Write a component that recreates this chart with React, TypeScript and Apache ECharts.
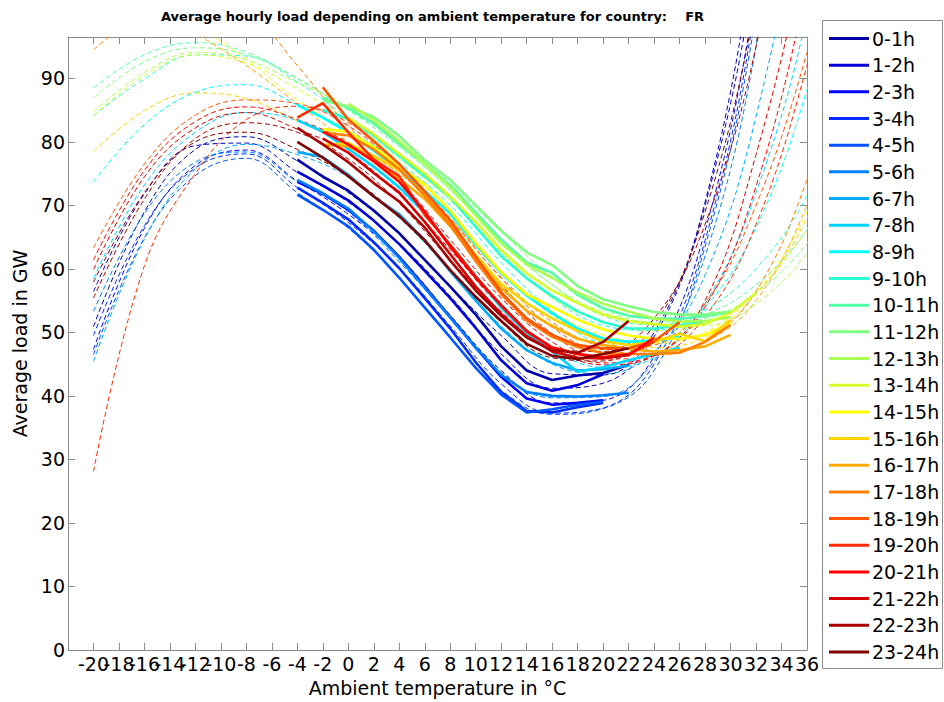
import React, { useEffect, useRef } from "react";
import * as echarts from "echarts";

const FONT = '"DejaVu Sans", "Liberation Sans", Arial, sans-serif';

const hourLabels = [
  "0-1h", "1-2h", "2-3h", "3-4h", "4-5h", "5-6h", "6-7h", "7-8h", "8-9h", "9-10h", "10-11h", "11-12h",
  "12-13h", "13-14h", "14-15h", "15-16h", "16-17h", "17-18h", "18-19h", "19-20h", "20-21h", "21-22h", "22-23h", "23-24h",
];

// MATLAB jet(24)
const hourColors = [
  "#0000AA", "#0000D4", "#0000FF", "#002BFF", "#0055FF", "#0080FF", "#00AAFF", "#00D4FF",
  "#00FFFF", "#2BFFD4", "#55FFAA", "#80FF80", "#AAFF55", "#D4FF2B", "#FFFF00", "#FFD400",
  "#FFAA00", "#FF8000", "#FF5500", "#FF2B00", "#FF0000", "#D40000", "#AA0000", "#800000",
];

// first temperature (°C) of each measured curve; points every 2 °C
const solidStart = [-4, -4, -4, -4, -4, -4, -4, -4, -4, -2, -2, -2, 0, 0, -2, -2, -2, -2, -2, -4, -2, -2, -4, -4];
const tempStep = 2;

// measured average load (GW)
const load00 = [77.2, 74.5, 72.3, 69.2, 65.6, 61.4, 57.2, 52.8, 47.8, 44.0, 42.5, 43.2, 43.6, 44.9];
const load01 = [75.3, 73.1, 70.8, 67.6, 63.9, 59.7, 55.4, 50.7, 45.6, 42.0, 40.8, 41.7, 43.4];
const load02 = [73.7, 71.8, 69.3, 66.0, 61.9, 57.2, 52.4, 47.6, 43.0, 39.6, 38.6, 38.9, 39.3];
const load03 = [72.8, 70.4, 67.8, 64.2, 60.1, 55.4, 50.6, 45.3, 40.6, 37.6, 37.4, 38.2, 38.9];
const load04 = [71.7, 69.3, 66.7, 63.0, 58.6, 53.9, 49.2, 44.4, 40.2, 37.4, 37.9, 38.6, 39.1];
const load05 = [74.0, 71.9, 69.5, 65.9, 61.7, 57.0, 52.3, 47.6, 43.3, 40.6, 40.0, 39.9, 40.1, 40.5];
const load06 = [78.4, 77.6, 74.8, 71.4, 68.6, 64.5, 59.6, 55.0, 50.6, 47.2, 45.2, 44.0, 44.2, 44.8];
const load07 = [83.4, 81.6, 78.9, 76.1, 72.9, 68.8, 63.8, 58.8, 53.9, 49.9, 47.0, 43.8, 44.5, 45.6, 46.6, 47.6];
const load08 = [85.8, 83.8, 81.5, 78.6, 75.6, 72.3, 68.7, 63.8, 59.3, 55.8, 53.0, 50.6, 49.0, 48.5, 48.7, 49.3];
const load09 = [85.0, 83.6, 81.0, 77.8, 74.6, 71.3, 66.6, 62.0, 58.5, 55.7, 53.3, 51.6, 50.6, 50.6, 51.1, 51.8];
const load10 = [87.0, 85.3, 82.9, 79.7, 76.5, 73.2, 68.9, 64.6, 61.0, 59.4, 55.9, 53.8, 52.6, 52.2, 52.1, 52.6, 53.2];
const load11 = [86.6, 85.5, 83.9, 80.9, 77.1, 74.0, 70.0, 66.0, 62.6, 60.6, 57.3, 55.2, 54.1, 53.2, 52.8, 52.8, 53.3];
const load12 = [86.0, 83.4, 80.1, 76.5, 72.9, 68.4, 64.0, 60.7, 58.6, 56.3, 54.5, 53.3, 52.2, 51.7, 51.8, 52.4];
const load13 = [83.8, 81.2, 78.1, 75.0, 71.4, 67.4, 63.0, 59.3, 56.6, 54.6, 52.8, 51.8, 51.3, 50.9, 51.3, 53.1, 56.2];
const load14 = [82.0, 81.6, 79.2, 76.1, 73.3, 69.2, 64.1, 59.5, 56.0, 54.0, 52.0, 50.5, 49.5, 49.0, 49.0, 49.6, 51.5];
const load15 = [79.5, 79.8, 77.8, 75.6, 71.6, 67.3, 62.2, 57.6, 54.6, 52.2, 50.2, 48.6, 48.0, 48.5, 49.8, 48.6, 52.0];
const load16 = [79.5, 79.3, 77.3, 74.2, 71.0, 66.7, 61.5, 57.0, 53.4, 51.0, 49.0, 48.0, 47.4, 47.0, 47.2, 47.8, 49.6];
const load17 = [81.5, 81.0, 78.8, 75.7, 71.5, 66.9, 61.2, 56.0, 51.9, 49.3, 47.7, 46.7, 46.6, 46.6, 46.8, 48.5, 51.2];
const load18 = [88.6, 83.5, 80.1, 76.5, 72.2, 67.6, 61.9, 56.3, 52.2, 49.6, 48.0, 47.5, 47.5, 48.6, 51.6];
const load19 = [83.8, 86.1, 81.5, 77.2, 74.6, 68.5, 63.8, 58.8, 54.2, 50.2, 47.6, 46.6, 46.1, 46.6, 48.5];
const load20 = [81.6, 79.6, 76.9, 73.7, 69.0, 63.5, 58.6, 54.3, 50.2, 47.6, 46.6, 46.0, 46.4, 49.2];
const load21 = [80.5, 78.3, 75.1, 72.0, 67.4, 62.3, 57.2, 52.9, 49.4, 47.0, 46.0, 45.9, 46.5];
const load22 = [82.2, 79.6, 76.8, 73.5, 70.6, 66.5, 61.3, 56.6, 52.6, 49.2, 47.2, 46.8, 48.5, 51.8];
const load23 = [80.0, 77.5, 74.6, 71.4, 68.3, 64.5, 59.8, 55.6, 51.8, 48.2, 46.3, 45.8, 46.6, 47.5];

const solidLoads = [
  load00, load01, load02, load03, load04, load05, load06, load07, load08, load09, load10, load11,
  load12, load13, load14, load15, load16, load17, load18, load19, load20, load21, load22, load23,
];

// fitted curves (dashed), sampled at these temperatures
const fitTemps = [-20, -16, -12, -8, -4, 0, 4, 8, 12, 16, 20, 24, 28, 32, 36, 40];
const fit00 = [50.9, 69.0, 78.8, 80.8, 77.0, 72.0, 65.5, 57.3, 49.5, 43.5, 43.3, 50.0, 70.5, 112, 175, 260];
const fit01 = [56.4, 71.8, 79.4, 79.8, 75.2, 70.5, 64.0, 55.7, 46.6, 41.2, 42.0, 49.3, 70.0, 108, 170, 250];
const fit02 = [47.3, 66.4, 76.3, 78.7, 73.8, 68.6, 61.9, 52.7, 44.0, 38.9, 39.3, 46.2, 66.0, 104, 165, 240];
const fit03 = [49.5, 66.8, 75.9, 78.1, 72.8, 67.3, 60.1, 51.0, 41.9, 37.3, 38.1, 45.0, 64.5, 102, 165, 240];
const fit04 = [46.5, 64.9, 74.7, 77.4, 72.0, 66.4, 58.6, 49.2, 40.9, 37.1, 38.0, 44.0, 63.5, 100, 160, 235];
const fit05 = [53.3, 68.7, 76.8, 78.4, 73.7, 69.0, 61.1, 52.3, 43.7, 39.7, 39.9, 45.5, 62.0, 95, 150, 220];
const fit06 = [45.4, 64.7, 75.7, 79.6, 78.0, 74.4, 68.0, 59.8, 51.0, 45.0, 43.5, 47.0, 59.0, 84, 125, 190];
const fit07 = [58.5, 73.2, 81.5, 84.6, 83.3, 78.7, 72.5, 64.0, 54.6, 47.5, 44.5, 46.0, 54.5, 72, 100, 145];
const fit08 = [73.7, 82.7, 87.8, 89.0, 85.8, 81.8, 76.7, 70.0, 61.0, 53.4, 48.5, 48.5, 54.0, 66.5, 88.2, 120];
const fit09 = [84.1, 89.9, 93.7, 93.5, 89.4, 83.6, 77.5, 70.8, 62.5, 55.4, 51.1, 50.3, 53.5, 60.0, 71.5, 90];
const fit10 = [88.5, 93.7, 95.6, 94.1, 90.0, 85.0, 79.2, 72.4, 64.6, 57.5, 52.6, 51.2, 52.8, 57.5, 66.2, 80];
const fit11 = [86.9, 92.6, 94.8, 93.7, 89.9, 85.0, 80.0, 73.4, 65.8, 58.7, 53.7, 51.6, 52.2, 56.2, 64.0, 76];
const fit12 = [84.7, 90.9, 94.1, 92.9, 89.3, 85.5, 79.4, 72.4, 64.2, 57.5, 53.2, 51.3, 51.1, 54.5, 62.5, 75];
const fit13 = [84.1, 90.4, 93.7, 92.4, 88.3, 83.3, 77.3, 70.8, 62.7, 55.4, 51.7, 50.3, 51.3, 56.3, 66.2, 79];
const fit14 = [112, 104, 98.5, 93.0, 86.6, 81.6, 76.2, 69.0, 59.6, 53.3, 49.6, 48.3, 50.0, 56.5, 69.0, 90];
const fit15 = [78.4, 84.9, 87.7, 86.8, 83.3, 79.6, 75.2, 68.0, 59.6, 53.0, 49.0, 47.6, 49.3, 56.0, 68.0, 88];
const fit16 = [106, 101, 97.0, 92.0, 86.0, 80.0, 75.0, 67.8, 59.3, 52.8, 48.6, 47.0, 48.5, 55.0, 70.0, 92];
const fit17 = [94.5, 100.5, 104, 101, 92.0, 82.5, 75.5, 67.6, 58.7, 51.6, 47.6, 46.5, 48.5, 56.5, 74.0, 100];
const fit18 = [63.3, 76.5, 84.2, 86.6, 86.0, 83.0, 76.5, 68.0, 58.5, 50.8, 47.3, 48.0, 54.5, 70.0, 94.0, 125];
const fit19 = [28.1, 60.5, 75.0, 83.5, 85.6, 82.5, 75.8, 66.9, 57.5, 49.8, 45.8, 46.3, 52.5, 67.0, 92.0, 125];
const fit20 = [61.4, 75.5, 83.2, 85.5, 83.5, 79.8, 73.8, 64.6, 55.4, 48.5, 45.2, 46.4, 54.0, 73.0, 105, 150];
const fit21 = [59.9, 74.5, 82.2, 84.6, 82.0, 78.3, 71.7, 63.0, 54.0, 47.7, 44.9, 46.3, 55.0, 78.0, 112, 160];
const fit22 = [55.4, 71.0, 80.5, 83.0, 81.5, 77.3, 70.3, 61.4, 53.3, 47.5, 47.0, 52.2, 67.0, 95, 140, 200];
const fit23 = [57.9, 72.0, 80.0, 81.5, 78.8, 74.6, 68.2, 59.8, 51.6, 46.0, 45.5, 51.2, 69.0, 102, 150, 210];

const fitLoads = [
  fit00, fit01, fit02, fit03, fit04, fit05, fit06, fit07, fit08, fit09, fit10, fit11,
  fit12, fit13, fit14, fit15, fit16, fit17, fit18, fit19, fit20, fit21, fit22, fit23,
];

const AXIS_GRAY = "#8c8c8c";

export default function App() {
  const ref = useRef<HTMLDivElement>(null);

  useEffect(() => {
    if (!ref.current) return;
    const chart = echarts.init(ref.current, undefined, { renderer: "svg" });

    const dashed = hourLabels.map((h, k) => ({
      name: h + " fit",
      type: "line",
      xAxisIndex: 0,
      yAxisIndex: 0,
      data: fitTemps.map((t, i) => [t, fitLoads[k][i]]),
      smooth: 0.4,
      symbol: "none",
      silent: true,
      clip: true,
      z: 2,
      lineStyle: { color: hourColors[k], width: 1, type: [5, 3] },
      itemStyle: { color: hourColors[k] },
    }));

    const solid = hourLabels.map((h, k) => ({
      name: h,
      type: "line",
      xAxisIndex: 0,
      yAxisIndex: 0,
      data: solidLoads[k].map((v, i) => [solidStart[k] + tempStep * i, v]),
      symbol: "none",
      clip: true,
      z: 3,
      lineStyle: { color: hourColors[k], width: 2.6 },
      itemStyle: { color: hourColors[k] },
    }));

    const tickCommon = {
      axisLine: { show: true, onZero: false, lineStyle: { color: AXIS_GRAY, width: 1 } },
      axisTick: { show: true, inside: true, length: 7, lineStyle: { color: AXIS_GRAY } },
      splitLine: { show: false },
    };

    chart.setOption({
      animation: false,
      backgroundColor: "#ffffff",
      textStyle: { fontFamily: FONT },
      title: {
        text: "Average hourly load depending on ambient temperature for country:    FR",
        left: 156,
        top: 5,
        textStyle: { fontFamily: FONT, fontSize: 13, fontWeight: "bold", color: "#000" },
      },
      grid: { left: 68, top: 37, width: 739, height: 614, containLabel: false },
      xAxis: [
        {
          type: "value",
          min: -22,
          max: 36,
          interval: 2,
          position: "bottom",
          name: "Ambient temperature in °C",
          nameLocation: "middle",
          nameGap: 28,
          nameTextStyle: { fontFamily: FONT, fontSize: 19, color: "#000" },
          axisLabel: { showMinLabel: false, margin: 4, fontFamily: FONT, fontSize: 19, color: "#000" },
          ...tickCommon,
        },
        {
          type: "value",
          min: -22,
          max: 36,
          interval: 2,
          position: "top",
          axisLabel: { show: false },
          ...tickCommon,
        },
      ],
      yAxis: [
        {
          type: "value",
          min: 0,
          max: 96.5,
          interval: 10,
          position: "left",
          name: "Average load in GW",
          nameLocation: "middle",
          nameGap: 36,
          nameTextStyle: { fontFamily: FONT, fontSize: 19, color: "#000" },
          axisLabel: { showMaxLabel: false, margin: 3, fontFamily: FONT, fontSize: 19, color: "#000" },
          ...tickCommon,
        },
        {
          type: "value",
          min: 0,
          max: 96.5,
          interval: 10,
          position: "right",
          axisLabel: { show: false },
          ...tickCommon,
        },
      ],
      legend: {
        data: hourLabels,
        orient: "vertical",
        left: 829,
        top: 29,
        padding: 0,
        icon: "rect",
        itemWidth: 40,
        itemHeight: 3,
        itemGap: 7.67,
        selectedMode: false,
        textStyle: { fontFamily: FONT, fontSize: 19, lineHeight: 18, color: "#000", padding: [0, 0, 0, -2] },
      },
      graphic: [
        {
          type: "rect",
          z: 0,
          shape: { x: 822.5, y: 20.5, width: 120, height: 648 },
          style: { fill: "none", stroke: AXIS_GRAY, lineWidth: 1 },
        },
      ],
      series: [...dashed, ...solid],
    });

    return () => chart.dispose();
  }, []);

  return (
    <div
      ref={ref}
      style={{ position: "fixed", left: 0, top: 0, width: 944, height: 702, background: "#fff" }}
    />
  );
}
